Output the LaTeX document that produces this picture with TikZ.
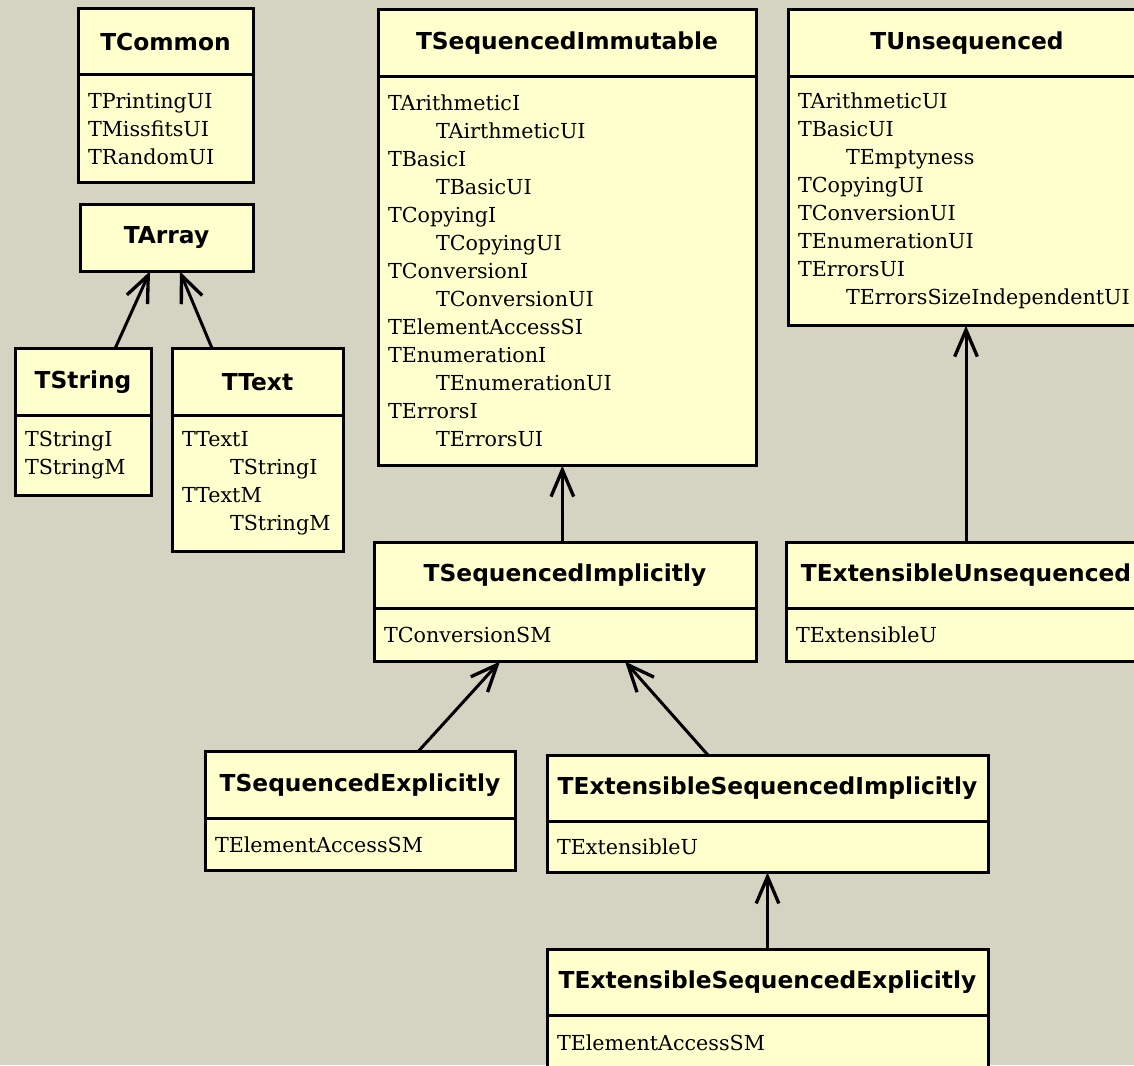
\documentclass[tikz,border=0pt]{standalone}
\usepackage{fontspec}
\usetikzlibrary{positioning,arrows.meta}
\newfontfamily\classfont{DejaVu Sans}
\newfontfamily\memberfont{DejaVu Serif}
\definecolor{paper}{RGB}{213,211,193}
\definecolor{classfill}{RGB}{255,255,206}
\newcommand{\ind}{\hspace*{36pt}}

\begin{document}
\begin{tikzpicture}[x=0.75pt,y=-0.75pt,
  chead/.style={draw, line width=2.25pt, fill=classfill, minimum height=50pt, inner sep=0pt, outer sep=0pt, font=\classfont\bfseries\fontsize{17.5}{20}\selectfont},
  cbody/.style={draw, line width=2.25pt, fill=classfill, inner xsep=7.5pt, inner ysep=0pt, outer sep=0pt, align=left, font=\memberfont\fontsize{15.5}{21}\selectfont},
  inh/.style={line width=2.25pt, -{Straight Barb[length=20pt,width=17pt,line width=2.5pt]}}]
    \useasboundingbox (0,0) rectangle (1134,1065);
    \clip (0,0) rectangle (1134,1065);
    \fill[paper] (0,0) rectangle (1134,1065);

    % left column
    \node[chead, minimum width=131.25pt] (tcommon) at (165.5,41.5) {TCommon};
    \node[cbody, text width=116.25pt, minimum height=81pt, below=0pt of tcommon] (tcommonb) {TPrintingUI\\TMissfitsUI\\TRandomUI\\[2pt]};
    \node[chead, minimum width=129.75pt] (tarray) at (166.5,238) {TArray};
    \node[chead, minimum width=102pt] (tstring) at (83,382) {TString};
    \node[cbody, text width=87pt, minimum height=60pt, below=0pt of tstring] (tstringb) {TStringI\\TStringM\\[2pt]};
    \node[chead, minimum width=128.25pt] (ttext) at (257.5,382) {TText};
    \node[cbody, text width=113.25pt, minimum height=102pt, below=0pt of ttext] (ttextb) {TTextI\\\ind TStringI\\TTextM\\\ind TStringM\\[2pt]};

    % top row
    \node[chead, minimum width=283.5pt] (tsimm) at (567,43) {TSequencedImmutable};
    \node[cbody, text width=268.5pt, minimum height=292pt, below=0pt of tsimm] (tsimmb) {TArithmeticI\\\ind TAirthmeticUI\\TBasicI\\\ind TBasicUI\\TCopyingI\\\ind TCopyingUI\\TConversionI\\\ind TConversionUI\\TElementAccessSI\\TEnumerationI\\\ind TEnumerationUI\\TErrorsI\\\ind TErrorsUI\\[2pt]};
    \node[chead, minimum width=268.5pt] (tunseq) at (967,43) {TUnsequenced};
    \node[cbody, text width=253.5pt, minimum height=187pt, below=0pt of tunseq] (tunseqb) {TArithmeticUI\\TBasicUI\\\ind TEmptyness\\TCopyingUI\\TConversionUI\\TEnumerationUI\\TErrorsUI\\\ind TErrorsSizeIndependentUI\\[2pt]};

    % middle row
    \node[chead, minimum width=286.5pt] (tsimpl) at (565,575.5) {TSequencedImplicitly};
    \node[cbody, text width=271.5pt, minimum height=39.5pt, below=0pt of tsimpl] (tsimplb) {TConversionSM\\[2pt]};
    \node[chead, minimum width=270pt] (texunseq) at (966,575.5) {TExtensibleUnsequenced};
    \node[cbody, text width=255pt, minimum height=39.5pt, below=0pt of texunseq] (texunseqb) {TExtensibleU\\[2pt]};

    % bottom rows
    \node[chead, minimum width=232.5pt] (tsexpl) at (360,785) {TSequencedExplicitly};
    \node[cbody, text width=217.5pt, minimum height=39pt, below=0pt of tsexpl] (tsexplb) {TElementAccessSM\\[2pt]};
    \node[chead, minimum width=330.75pt] (tesimpl) at (767.5,788.5) {TExtensibleSequencedImplicitly};
    \node[cbody, text width=315.75pt, minimum height=38pt, below=0pt of tesimpl] (tesimplb) {TExtensibleU\\[2pt]};
    \node[chead, minimum width=330.75pt] (tesexpl) at (767.5,982.5) {TExtensibleSequencedExplicitly};
    \node[cbody, text width=315.75pt, minimum height=40pt, below=0pt of tesexpl] (tesexplb) {TElementAccessSM\\[2pt]};

    % inheritance
    \draw[inh] ([xshift=24pt]tstring.north) -- ([xshift=-12.4pt]tarray.south);
    \draw[inh] ([xshift=-34pt]ttext.north) -- ([xshift=10pt]tarray.south);
    \draw[inh] ([xshift=-2pt]tsimpl.north) -- ([xshift=-2pt]tsimpl.north |- tsimmb.south);
    \draw[inh] (texunseq.north) -- (texunseq.north |- tunseqb.south);
    \draw[inh] ([xshift=43.5pt]tsexpl.north) -- ([xshift=-48.75pt]tsimplb.south);
    \draw[inh] ([xshift=-44.6pt]tesimpl.north) -- ([xshift=45pt]tsimplb.south);
    \draw[inh] (tesexpl.north) -- (tesimplb.south);
\end{tikzpicture}
\end{document}
